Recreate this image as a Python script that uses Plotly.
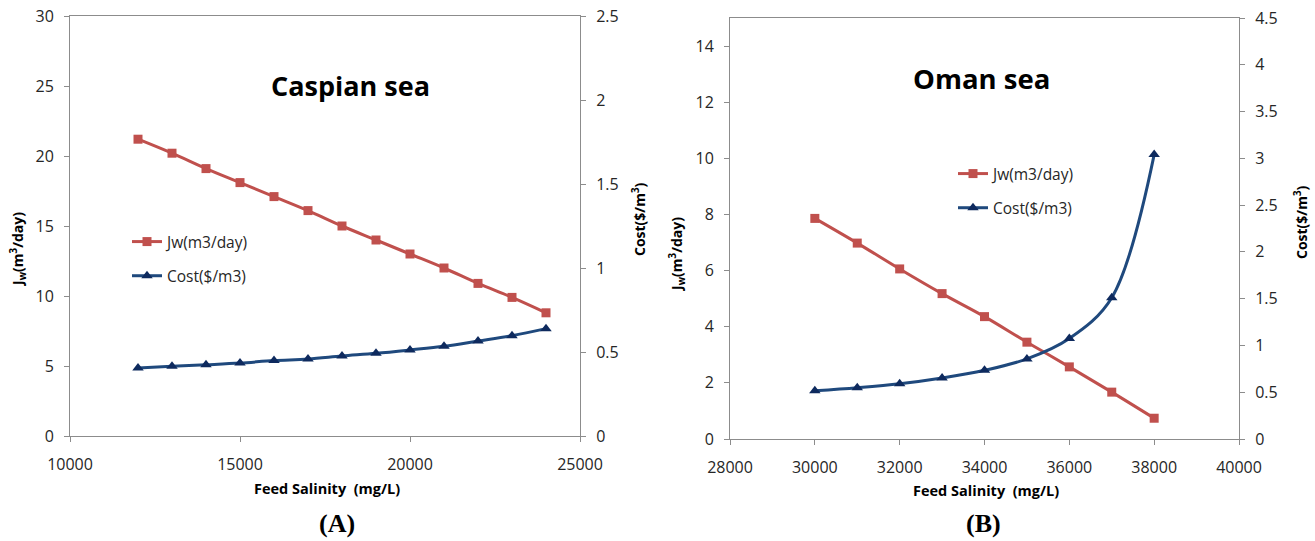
import plotly.graph_objects as go

W, H = 1315, 541

# ---------------- data ----------------
caspian_salinity = [12000, 13000, 14000, 15000, 16000, 17000, 18000, 19000, 20000, 21000, 22000, 23000, 24000]
caspian_jw = [21.2, 20.2, 19.1, 18.1, 17.1, 16.1, 15.0, 14.0, 13.0, 12.0, 10.9, 9.9, 8.8]
caspian_cost = [0.405, 0.415, 0.424, 0.434, 0.449, 0.458, 0.476, 0.492, 0.512, 0.534, 0.565, 0.597, 0.639]

oman_salinity = [30000, 31000, 32000, 33000, 34000, 35000, 36000, 37000, 38000]
oman_jw = [7.86, 6.98, 6.06, 5.18, 4.36, 3.45, 2.57, 1.67, 0.74]
oman_cost = [0.515, 0.548, 0.59, 0.652, 0.734, 0.856, 1.074, 1.51, 3.04]

caspian_xticks = [10000, 15000, 20000, 25000]
oman_xticks = [28000, 30000, 32000, 34000, 36000, 38000, 40000]
caspian_jw_ticks = [0, 5, 10, 15, 20, 25, 30]
caspian_cost_ticks = [0, 0.5, 1, 1.5, 2, 2.5]
oman_jw_ticks = [0, 2, 4, 6, 8, 10, 12, 14]
oman_cost_ticks = [0, 0.5, 1, 1.5, 2, 2.5, 3, 3.5, 4, 4.5]

# ---------------- styles ----------------
RED = "#C0504D"
BLUE_LINE = "#1F497D"
BLUE_MARK = "#0E2A5E"
AXC = "#8C8C8C"
TXT = "#262626"
FONT = "Open Sans"


def px_x(px):
    return px / W


def px_y(py):
    return (H - py) / H


def lbl(v):
    return ("%g" % v)


fig = go.Figure()

# Caspian
fig.add_trace(go.Scatter(x=caspian_salinity, y=caspian_jw, name="Jw(m3/day)", mode="lines+markers",
                         line=dict(color=RED, width=3, shape="spline"),
                         marker=dict(symbol="square", size=9, color=RED),
                         xaxis="x", yaxis="y", legend="legend", legendgroup="a1"))
fig.add_trace(go.Scatter(x=caspian_salinity, y=caspian_cost, name="Cost($/m3)", mode="lines+markers",
                         line=dict(color=BLUE_LINE, width=3, shape="spline"),
                         marker=dict(symbol="triangle-up", size=10, color=BLUE_MARK),
                         xaxis="x", yaxis="y2", legend="legend", legendgroup="a2"))
# Oman
fig.add_trace(go.Scatter(x=oman_salinity, y=oman_jw, name="Jw(m3/day)", mode="lines+markers",
                         line=dict(color=RED, width=3, shape="spline"),
                         marker=dict(symbol="square", size=9, color=RED),
                         xaxis="x2", yaxis="y3", legend="legend2", legendgroup="b1"))
fig.add_trace(go.Scatter(x=oman_salinity, y=oman_cost, name="Cost($/m3)", mode="lines+markers",
                         line=dict(color=BLUE_LINE, width=3, shape="spline"),
                         marker=dict(symbol="triangle-up", size=10, color=BLUE_MARK),
                         xaxis="x2", yaxis="y4", legend="legend2", legendgroup="b2"))

axis_common = dict(showgrid=False, zeroline=False, showline=True, linecolor=AXC, linewidth=1,
                   ticks="outside", ticklen=5, tickcolor=AXC, automargin=False,
                   tickfont=dict(family=FONT, size=16, color=TXT))

dA = [px_x(70), px_x(580)]
dAy = [px_y(436), px_y(16)]
dB = [px_x(730), px_x(1239)]
dBy = [px_y(439), px_y(18)]

xstand = 9
ystand = 7

fig.update_layout(
    width=W, height=H, autosize=False,
    margin=dict(l=0, r=0, t=0, b=0, autoexpand=False),
    paper_bgcolor="white", plot_bgcolor="white",
    font=dict(family=FONT, color=TXT),
    xaxis=dict(domain=dA, anchor="y", range=[10000, 25000], tickvals=caspian_xticks,
               ticktext=[lbl(v) for v in caspian_xticks], mirror=True, ticklabelstandoff=xstand, **axis_common),
    yaxis=dict(domain=dAy, anchor="x", range=[0, 30], tickvals=caspian_jw_ticks,
               ticktext=[lbl(v) for v in caspian_jw_ticks], ticklabelstandoff=ystand, **axis_common),
    yaxis2=dict(overlaying="y", anchor="x", side="right", range=[0, 2.5], ticklabelstandoff=ystand,
                tickvals=caspian_cost_ticks, ticktext=[lbl(v) for v in caspian_cost_ticks], **axis_common),
    xaxis2=dict(domain=dB, anchor="y3", range=[28000, 40000], tickvals=oman_xticks,
                ticktext=[lbl(v) for v in oman_xticks], mirror=True, ticklabelstandoff=xstand, **axis_common),
    yaxis3=dict(domain=dBy, anchor="x2", range=[0, 15], tickvals=oman_jw_ticks,
                ticktext=[lbl(v) for v in oman_jw_ticks], ticklabelstandoff=ystand, **axis_common),
    yaxis4=dict(overlaying="y3", anchor="x2", side="right", range=[0, 4.5], ticklabelstandoff=ystand,
                tickvals=oman_cost_ticks, ticktext=[lbl(v) for v in oman_cost_ticks], **axis_common),
    legend=dict(x=px_x(127), y=px_y(225), xanchor="left", yanchor="top", bgcolor="rgba(0,0,0,0)",
                font=dict(family=FONT, size=15.5, color=TXT), tracegroupgap=11, traceorder="grouped",
                itemwidth=30),
    legend2=dict(x=px_x(953), y=px_y(157), xanchor="left", yanchor="top", bgcolor="rgba(0,0,0,0)",
                 font=dict(family=FONT, size=15.5, color=TXT), tracegroupgap=11, traceorder="grouped",
                 itemwidth=30),
)

ann = []
common = dict(xref="paper", yref="paper", showarrow=False, xanchor="center", yanchor="middle")
# titles
ann.append(dict(text="<b>Caspian sea</b>", x=px_x(350), y=px_y(85),
                font=dict(family=FONT, size=27, color="black"), **common))
ann.append(dict(text="<b>Oman sea</b>", x=px_x(981), y=px_y(78),
                font=dict(family=FONT, size=27.5, color="black"), **common))
# axis titles
axt = dict(family=FONT, size=14.5, color="black")
axr = dict(family=FONT, size=14, color="black")
ann.append(dict(text="<b>Feed Salinity  (mg/L)</b>", x=px_x(327), y=px_y(488), font=axt, **common))
ann.append(dict(text="<b>Feed Salinity  (mg/L)</b>", x=px_x(986), y=px_y(491), font=axt, **common))
ann.append(dict(text="<b>J<sub>w</sub>(m<sup>3</sup>/day)</b>", x=px_x(18), y=px_y(250),
                textangle=-90, font=axr, **common))
ann.append(dict(text="<b>Cost($/m<sup>3</sup>)</b>", x=px_x(639), y=px_y(219),
                textangle=-90, font=axr, **common))
ann.append(dict(text="<b>J<sub>w</sub>(m<sup>3</sup>/day)</b>", x=px_x(677), y=px_y(255),
                textangle=-90, font=axr, **common))
ann.append(dict(text="<b>Cost($/m<sup>3</sup>)</b>", x=px_x(1301), y=px_y(222),
                textangle=-90, font=axr, **common))
# panel labels
pl = dict(family="Liberation Serif", size=26, color="black")
ann.append(dict(text="<b>(A)</b>", x=px_x(337), y=px_y(523), font=pl, **common))
ann.append(dict(text="<b>(B)</b>", x=px_x(983), y=px_y(523), font=pl, **common))

fig.update_layout(annotations=ann)

fig.write_html("out.html")
